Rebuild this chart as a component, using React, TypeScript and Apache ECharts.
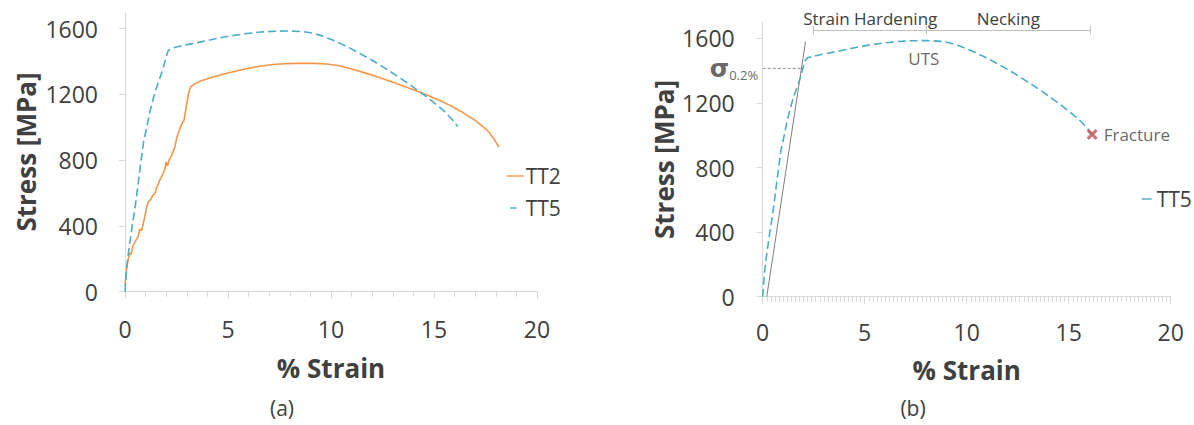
import { useEffect, useRef } from 'react';
import * as echarts from 'echarts';

const FONT = '"Open Sans", "DejaVu Sans", sans-serif';
const SIGMA_FONT = '"DejaVu Sans", sans-serif';
const TEXT = '#404040';
const AXIS = '#d9d9d9';
const ORANGE = '#f79646';
const BLUE = '#4bacc6';
const RED = '#c0504d';

// Stress axis ticks [MPa] and strain label step [%]
const stressTicks = [0, 400, 800, 1200, 1600];
const stressMax = 1700;
const strainMax = 20;
const strainStep = 5;

// Engineering stress-strain curves: [% strain, stress MPa]
const tt2: [number, number][] = [
  [0, 40], [0.08, 140], [0.16, 200], [0.24, 235], [0.3, 228], [0.38, 280], [0.48, 300],
  [0.56, 320], [0.64, 335], [0.72, 380], [0.8, 372], [0.88, 410], [0.98, 470], [1.06, 520],
  [1.14, 548], [1.24, 560], [1.34, 585], [1.46, 600], [1.52, 630], [1.62, 655], [1.7, 682],
  [1.78, 700], [1.86, 722], [1.94, 748], [2.0, 790], [2.06, 765], [2.14, 800], [2.24, 825],
  [2.32, 850], [2.42, 880], [2.5, 930], [2.58, 965], [2.66, 990], [2.74, 1015], [2.8, 1035],
  [2.86, 1040], [2.94, 1100], [3.02, 1160], [3.1, 1215], [3.2, 1248], [3.4, 1266], [3.7, 1283],
  [4.2, 1303], [4.8, 1325], [5.4, 1343], [6.0, 1360], [6.6, 1373], [7.2, 1382], [7.8, 1388],
  [8.5, 1390], [9.2, 1389], [9.8, 1385], [10.4, 1375], [11.0, 1355], [11.6, 1333], [12.2, 1310],
  [12.8, 1284], [13.4, 1256], [14.0, 1229], [14.6, 1200], [15.2, 1168], [15.8, 1132],
  [16.4, 1090], [17.0, 1042], [17.5, 990], [17.7, 968], [17.75, 955], [17.9, 932], [18.15, 880],
];

const tt5: [number, number][] = [
  [0, 0], [0.08, 140], [0.16, 230], [0.26, 320], [0.36, 410], [0.5, 520], [0.62, 640],
  [0.76, 780], [0.9, 910], [1.04, 990], [1.2, 1090], [1.36, 1170], [1.52, 1240], [1.68, 1295],
  [1.84, 1355], [1.98, 1420], [2.08, 1462], [2.2, 1480], [2.6, 1492], [3.2, 1508], [3.8, 1523],
  [4.5, 1542], [5.2, 1558], [5.9, 1571], [6.6, 1580], [7.3, 1585], [8.0, 1586], [8.6, 1583],
  [9.1, 1574], [9.6, 1555], [10.2, 1525], [10.8, 1490], [11.4, 1450], [12.0, 1408],
  [12.6, 1362], [13.2, 1313], [13.8, 1262], [14.4, 1208], [15.0, 1150], [15.5, 1098],
  [15.9, 1045], [16.15, 1005],
];

// Annotation values for the TT5 curve
const yieldStress = 1414;
const offsetLine: [number, number][] = [[0.2, 0], [2.1, 1580]];
const yieldLine: [number, number][] = [[0, yieldStress], [1.9, yieldStress]];
const utsPoint: [number, number] = [7.9, 1586];
const fracturePoint: [number, number] = [16.15, 1005];
const hardeningRange: [number, number] = [2.5, 8.04];
const neckingRange: [number, number] = [8.04, 16.04];
const bracketStress = 1651;
const bracketTick = 25;

// Legend swatches: a full solid stroke and a single short dash
const ICON_SOLID = 'path://M0,0 M17,10 M0,4.3 H17 V5.7 H0 Z';
const ICON_DASH_A = 'path://M0,0 M17,10 M3.3,4.3 H10 V5.7 H3.3 Z';
const ICON_DASH_B = 'path://M0,0 M10,10 M0,4.3 H10 V5.7 H0 Z';

const grids = [
  { left: 125, top: 12.3, width: 412, height: 279.4 },
  { left: 762.7, top: 22.2, width: 408, height: 274.5 },
];

const xAxisFor = (gridIndex: number, minorSplit: number, labelMargin: number, nameGap: number) => ({
  type: 'value',
  gridIndex,
  min: 0,
  max: strainMax,
  interval: strainStep,
  name: '% Strain',
  nameLocation: 'middle',
  nameGap,
  nameTextStyle: { fontFamily: FONT, fontSize: 26, fontWeight: 'bold', color: TEXT },
  axisLine: { show: true, lineStyle: { color: AXIS, width: 1 } },
  axisTick: { show: true, length: 7, lineStyle: { color: AXIS } },
  minorTick: { show: true, splitNumber: minorSplit, length: 5, lineStyle: { color: AXIS } },
  splitLine: { show: false },
  axisLabel: { fontFamily: FONT, fontSize: 23, color: TEXT, margin: labelMargin },
});

const yAxisFor = (gridIndex: number, labelMargin: number) => ({
  type: 'value',
  gridIndex,
  min: 0,
  max: stressMax,
  name: 'Stress [MPa]',
  nameLocation: 'middle',
  nameGap: 86,
  nameTextStyle: { fontFamily: FONT, fontSize: 26, fontWeight: 'bold', color: TEXT },
  axisLine: { show: true, lineStyle: { color: AXIS, width: 1 } },
  axisTick: { show: true, length: 6, customValues: stressTicks, lineStyle: { color: AXIS } },
  splitLine: { show: false },
  axisLabel: {
    fontFamily: FONT,
    fontSize: 23,
    color: TEXT,
    margin: labelMargin,
    customValues: stressTicks,
    formatter: (v: number) => String(v),
  },
});

const segment = (a: [number, number], b: [number, number], label?: string) => [
  {
    coord: a,
    label: label
      ? {
          show: true,
          formatter: label,
          position: 'insideMiddleTop',
          distance: 3,
          fontFamily: FONT,
          fontSize: 17,
          color: TEXT,
        }
      : { show: false },
  },
  { coord: b },
];

export default function App() {
  const ref = useRef<HTMLDivElement>(null);

  useEffect(() => {
    if (!ref.current) return;
    const chart = echarts.init(ref.current, null, { renderer: 'svg' });

    chart.setOption({
      animation: false,
      backgroundColor: '#ffffff',
      textStyle: { fontFamily: FONT },
      grid: grids.map((g) => ({ ...g, containLabel: false, outerBoundsMode: 'none' })),
      xAxis: [xAxisFor(0, 5, 26, 63), xAxisFor(1, 25, 24, 60)],
      yAxis: [yAxisFor(0, 27), yAxisFor(1, 28)],
      legend: [
        {
          data: [
            { name: 'TT2', icon: ICON_SOLID },
            { name: 'TT5', icon: ICON_DASH_A },
          ],
          orient: 'vertical',
          left: 501.7,
          top: 159.5,
          itemWidth: 17,
          itemHeight: 10,
          itemGap: 9,
          selectedMode: false,
          textStyle: { fontFamily: FONT, fontSize: 21, color: TEXT, lineHeight: 21, padding: [2, 0, 0, -3] },
        },
        {
          data: [{ name: 'TT5', icon: ICON_DASH_B }],
          orient: 'vertical',
          left: 1136.7,
          top: 182.5,
          itemWidth: 10,
          itemHeight: 10,
          selectedMode: false,
          textStyle: { fontFamily: FONT, fontSize: 21, color: TEXT, lineHeight: 21, padding: [2, 0, 0, 0] },
        },
      ],
      series: [
        {
          name: 'TT2',
          type: 'line',
          xAxisIndex: 0,
          yAxisIndex: 0,
          data: tt2,
          showSymbol: false,
          symbol: 'none',
          lineStyle: { color: ORANGE, width: 1.6 },
          itemStyle: { color: ORANGE },
          z: 3,
        },
        {
          name: 'TT5',
          type: 'line',
          xAxisIndex: 0,
          yAxisIndex: 0,
          data: tt5,
          symbol: 'none',
          lineStyle: { color: BLUE, width: 1.6, type: [8, 4] },
          itemStyle: { color: BLUE },
          z: 4,
        },
        {
          name: 'TT5',
          type: 'line',
          xAxisIndex: 1,
          yAxisIndex: 1,
          data: tt5,
          symbol: 'none',
          lineStyle: { color: BLUE, width: 1.6, type: [8, 4] },
          itemStyle: { color: BLUE },
          z: 4,
        },
        {
          name: '0.2% offset',
          type: 'line',
          xAxisIndex: 1,
          yAxisIndex: 1,
          data: offsetLine,
          symbol: 'none',
          silent: true,
          lineStyle: { color: '#7f7f7f', width: 1 },
          z: 3,
          markLine: {
            silent: true,
            symbol: ['none', 'none'],
            lineStyle: { color: '#bfbfbf', width: 1, type: 'solid' },
            data: [
              segment([hardeningRange[0], bracketStress], [hardeningRange[1], bracketStress], 'Strain Hardening'),
              segment([neckingRange[0], bracketStress], [neckingRange[1], bracketStress], 'Necking'),
              segment([hardeningRange[0], bracketStress - bracketTick], [hardeningRange[0], bracketStress + bracketTick]),
              segment([hardeningRange[1], bracketStress - bracketTick], [hardeningRange[1], bracketStress + bracketTick]),
              segment([neckingRange[1], bracketStress - bracketTick], [neckingRange[1], bracketStress + bracketTick]),
            ],
          },
        },
        {
          name: 'yield',
          type: 'line',
          xAxisIndex: 1,
          yAxisIndex: 1,
          data: yieldLine,
          symbol: 'none',
          silent: true,
          lineStyle: { color: '#8c8c8c', width: 1, type: [3, 2] },
          z: 3,
        },
        {
          name: 'σ0.2%',
          type: 'scatter',
          xAxisIndex: 1,
          yAxisIndex: 1,
          data: [[0, yieldStress]],
          symbolSize: 1,
          silent: true,
          itemStyle: { color: 'transparent' },
          label: {
            show: true,
            position: 'left',
            distance: 4,
            offset: [0, 4],
            formatter: '{s|σ}{p|0.2%}',
            rich: {
              s: { fontFamily: SIGMA_FONT, fontSize: 25, fontWeight: 'bold', color: TEXT, verticalAlign: 'bottom', lineHeight: 18 },
              p: { fontFamily: FONT, fontSize: 13, color: TEXT, verticalAlign: 'bottom', lineHeight: 15 },
            },
          },
          z: 6,
        },
        {
          name: 'UTS',
          type: 'scatter',
          xAxisIndex: 1,
          yAxisIndex: 1,
          data: [utsPoint],
          symbolSize: 1,
          silent: true,
          itemStyle: { color: 'transparent' },
          label: {
            show: true,
            position: 'bottom',
            distance: 9,
            formatter: 'UTS',
            fontFamily: FONT,
            fontSize: 17,
            color: TEXT,
          },
          z: 6,
        },
        {
          name: 'Fracture',
          type: 'scatter',
          xAxisIndex: 1,
          yAxisIndex: 1,
          data: [fracturePoint],
          symbol: 'path://M2,0 L5,3 L8,0 L10,2 L7,5 L10,8 L8,10 L5,7 L2,10 L0,8 L3,5 L0,2 Z',
          symbolSize: 11,
          silent: true,
          itemStyle: { color: RED },
          label: {
            show: true,
            position: 'right',
            distance: 6,
            formatter: 'Fracture',
            fontFamily: FONT,
            fontSize: 17,
            color: TEXT,
          },
          z: 7,
        },
      ],
      graphic: [
        {
          type: 'text',
          x: 282,
          y: 408,
          style: { text: '(a)', font: `21px ${FONT}`, fill: TEXT, align: 'center', verticalAlign: 'middle' },
        },
        {
          type: 'text',
          x: 913,
          y: 408,
          style: { text: '(b)', font: `21px ${FONT}`, fill: TEXT, align: 'center', verticalAlign: 'middle' },
        },
      ],
    });

    return () => chart.dispose();
  }, []);

  return (
    <div
      ref={ref}
      style={{ position: 'fixed', left: 0, top: 0, width: 1194, height: 425, background: '#fff' }}
    />
  );
}
